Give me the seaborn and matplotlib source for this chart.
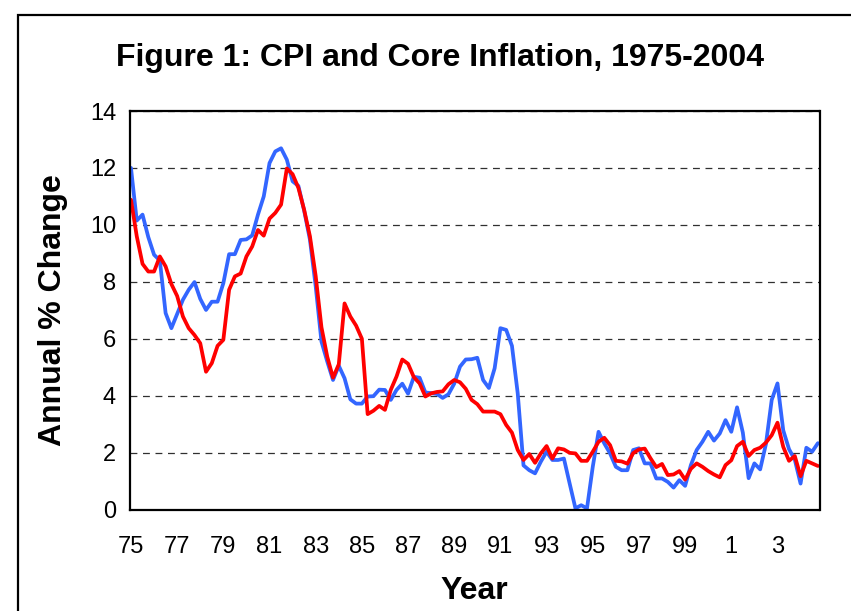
import numpy as np
import pandas as pd
import matplotlib
matplotlib.use("Agg")
import matplotlib.pyplot as plt
from matplotlib.patches import Rectangle
import seaborn as sns

# ---------------- data (quarterly, 1975Q1 - 2004Q4) ----------------
quarters = [f"{y}Q{q}" for y in range(1975, 2005) for q in range(1, 5)]

cpi = [
    12.0, 10.15, 10.36, 9.57, 8.95, 8.75, 6.9, 6.37, 6.87, 7.37,
    7.72, 7.99, 7.4, 7.01, 7.3, 7.3, 7.95, 8.97, 8.97, 9.47,
    9.49, 9.63, 10.36, 11.0, 12.17, 12.58, 12.69, 12.29, 11.53, 11.37,
    10.5, 9.48, 7.84, 5.9, 5.2, 4.55, 5.05, 4.61, 3.87, 3.72,
    3.72, 3.97, 3.98, 4.21, 4.2, 3.85, 4.2, 4.42, 4.07, 4.66,
    4.63, 4.11, 4.09, 4.06, 3.92, 4.05, 4.42, 5.02, 5.27, 5.28,
    5.33, 4.55, 4.27, 4.96, 6.37, 6.31, 5.75, 4.08, 1.55, 1.38,
    1.27, 1.68, 2.03, 1.74, 1.74, 1.79, 0.91, 0.04, 0.15, 0.04,
    1.5, 2.73, 2.32, 1.97, 1.5, 1.38, 1.38, 2.09, 2.15, 1.62,
    1.62, 1.09, 1.09, 0.97, 0.77, 1.03, 0.83, 1.56, 2.09, 2.38,
    2.73, 2.42, 2.67, 3.14, 2.73, 3.59, 2.7, 1.1, 1.62, 1.41,
    2.3, 3.85, 4.43, 2.78, 2.12, 1.75, 0.91, 2.17, 2.03, 2.33,
]

core = [
    10.88, 9.6, 8.63, 8.36, 8.36, 8.89, 8.54, 7.92, 7.5, 6.78,
    6.37, 6.13, 5.84, 4.84, 5.14, 5.75, 5.96, 7.72, 8.19, 8.29,
    8.89, 9.24, 9.82, 9.62, 10.22, 10.42, 10.71, 11.98, 11.78, 11.3,
    10.53, 9.6, 8.2, 6.4, 5.37, 4.63, 5.1, 7.24, 6.78, 6.46,
    6.0, 3.35, 3.47, 3.64, 3.5, 4.2, 4.67, 5.27, 5.12, 4.65,
    4.43, 3.97, 4.08, 4.13, 4.15, 4.4, 4.55, 4.47, 4.24, 3.85,
    3.7, 3.44, 3.44, 3.44, 3.35, 2.97, 2.7, 2.09, 1.74, 1.95,
    1.64, 1.97, 2.23, 1.79, 2.15, 2.11, 1.99, 1.97, 1.71, 1.71,
    2.03, 2.38, 2.52, 2.26, 1.71, 1.69, 1.61, 1.98, 2.11, 2.14,
    1.8, 1.49, 1.6, 1.21, 1.23, 1.35, 1.05, 1.43, 1.62, 1.5,
    1.35, 1.23, 1.13, 1.56, 1.73, 2.23, 2.38, 1.88, 2.09, 2.17,
    2.35, 2.61, 3.05, 2.2, 1.71, 1.88, 1.17, 1.71, 1.62, 1.53,
]

tick_labels = ["75", "77", "79", "81", "83", "85", "87", "89", "91",
               "93", "95", "97", "99", "1", "3"]
y_ticks = [0, 2, 4, 6, 8, 10, 12, 14]

title = "Figure 1: CPI and Core Inflation, 1975-2004"
xlabel = "Year"
ylabel = "Annual % Change"

# ---------------- styling ----------------
sns.set_style("white")
plt.rcParams["font.family"] = ["Liberation Sans", "DejaVu Sans"]
plt.rcParams["text.color"] = "black"
plt.rcParams["axes.labelcolor"] = "black"
plt.rcParams["xtick.color"] = "black"
plt.rcParams["ytick.color"] = "black"

W, H = 851, 611
fig = plt.figure(figsize=(W / 100, H / 100), dpi=100)
fig.patch.set_facecolor("white")

left, right, top, bottom = 130, 819.5, 111, 509.5
ax = fig.add_axes([left / W, 1 - bottom / H, (right - left) / W, (bottom - top) / H])

df = pd.DataFrame({"t": np.arange(len(quarters)), "quarter": quarters,
                   "CPI": cpi, "Core": core})
long = df.melt(id_vars=["t", "quarter"], value_vars=["CPI", "Core"],
               var_name="series", value_name="value")

ax.yaxis.grid(True, linestyle=(0, (5.5, 4.5)), color="#303030", linewidth=0.9)
ax.set_axisbelow(True)

sns.lineplot(data=long, x="t", y="value", hue="series",
             hue_order=["CPI", "Core"],
             palette={"CPI": "#3366FF", "Core": "#FF0000"},
             linewidth=2.7, legend=False, ax=ax)

ax.set_xlim(-0.17, len(quarters) - 1 + 0.28)
ax.set_ylim(0, 14)
ax.set_yticks(y_ticks)
ax.set_yticklabels([str(v) for v in y_ticks], fontsize=17, color="black")
ax.set_xticks(np.arange(0, 8 * len(tick_labels), 8))
ax.set_xticklabels(tick_labels, fontsize=17, color="black")
ax.tick_params(axis="y", direction="out", length=5, width=1, color="black", pad=5)
ax.tick_params(axis="x", length=0, pad=19)
ax.set_xlabel("")
ax.set_ylabel("")

for s in ax.spines.values():
    s.set_visible(True)
    s.set_color("black")
    s.set_linewidth(1.6)

fig.text(440 / W, 1 - 66 / H, title, ha="center", va="baseline",
         fontsize=23, fontweight="bold", color="black")
fig.text(474 / W, 1 - 599 / H, xlabel, ha="center", va="baseline",
         fontsize=23, fontweight="bold", color="black")
fig.text(53 / W, 1 - 310 / H, ylabel, ha="center", va="center",
         rotation=90, fontsize=23, fontweight="bold", color="black")

# outer chart frame (partially cut off at right and bottom)
frame = Rectangle((18 / W, -0.2), 1.2, (1 - 15 / H) + 0.2,
                  transform=fig.transFigure, fill=False,
                  edgecolor="black", linewidth=1.6, clip_on=False)
fig.patches.append(frame)

fig.savefig("out.png", dpi=100)
